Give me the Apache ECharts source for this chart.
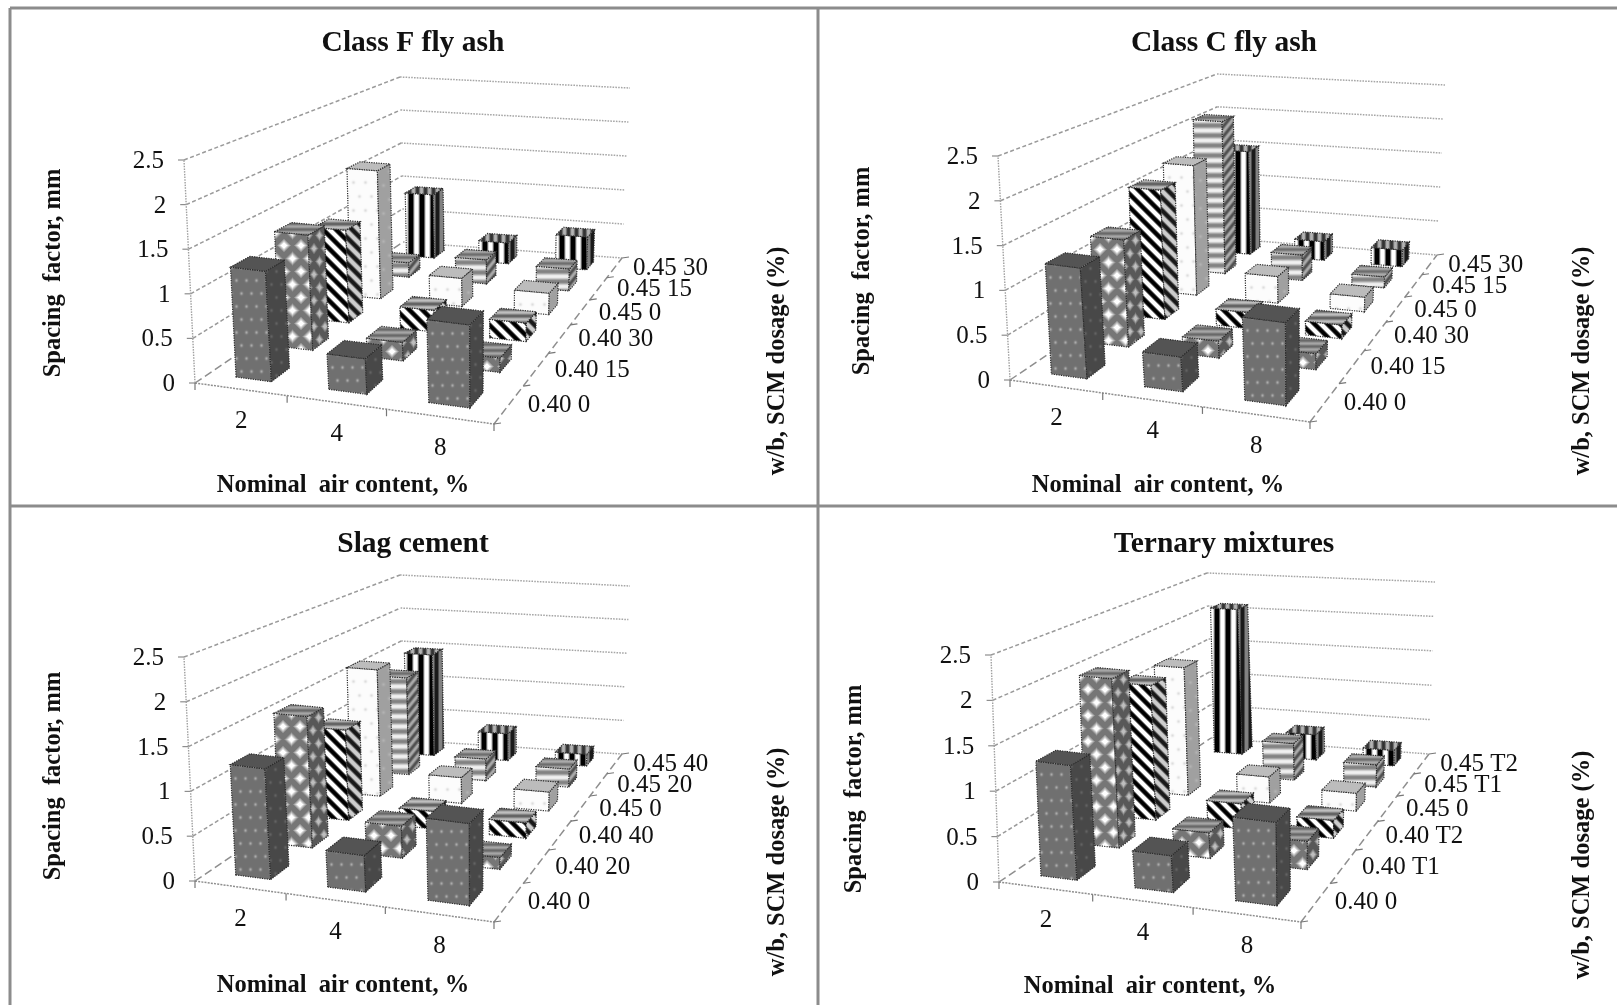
<!DOCTYPE html>
<html><head><meta charset="utf-8">
<style>html,body{margin:0;padding:0;background:#fff}#c{width:1617px;height:1005px}</style>
<script src="https://cdn.jsdelivr.net/npm/echarts@6/dist/echarts.min.js"></script>
</head><body><div id="c"></div>
<script>
// ---------- data ----------
const airContent = ['2','4','8'];
const spacingTicks = [0,0.5,1,1.5,2,2.5];
const labelsClassF = ['0.40 0','0.40 15','0.40 30','0.45 0','0.45 15','0.45 30'];
const labelsClassC = ['0.40 0','0.40 15','0.40 30','0.45 0','0.45 15','0.45 30'];
const labelsSlag = ['0.40 0','0.40 20','0.40 40','0.45 0','0.45 20','0.45 40'];
const labelsTernary = ['0.40 0','0.40 T1','0.40 T2','0.45 0','0.45 T1','0.45 T2'];
// rows: one per w/b + SCM label; columns: air content 2, 4, 8
const classFValues = [[1.25,0.4,0.93],[1.38,0.22,0.17],[1.17,0.27,0.23],[1.7,0.37,0.28],[0.2,0.33,0.3],[0.92,0.3,0.47]];
const classCValues = [[1.25,0.39,0.93],[1.28,0.2,0.19],[1.63,0.2,0.17],[1.72,0.35,0.19],[2.12,0.35,0.15],[1.5,0.27,0.24]];
const slagValues = [[1.25,0.41,0.92],[1.57,0.38,0.14],[1.14,0.22,0.19],[1.68,0.34,0.25],[1.35,0.3,0.25],[1.47,0.39,0.17]];
const ternaryValues = [[1.28,0.41,0.93],[2.0,0.3,0.33],[1.68,0.31,0.22],[1.68,0.34,0.23],[null,0.5,0.3],[2.1,0.36,0.22]];

// ---------- layout ----------
const FONT = '"Liberation Serif","Times New Roman",serif';
const panels = [
 {title:'Class F fly ash', values:classFValues, labels:labelsClassF, tx:413, ty:38,
  f:[[195,383],[494,424],[622,258],[403,242]], t:[[184,160],[497,197],[630,88],[400,77]],
  xt:[343,486], yt:[54,273], zt:[778,361]},
 {title:'Class C fly ash', values:classCValues, labels:labelsClassC, tx:1224, ty:38,
  f:[[1010,380],[1310,422],[1437,255],[1219,238]], t:[[998,156],[1313,195],[1445,85],[1217,74]],
  xt:[1158,486], yt:[863,271], zt:[1583,361]},
 {title:'Slag cement', values:slagValues, labels:labelsSlag, tx:413, ty:539,
  f:[[195,881],[494,922],[622,754],[403,740]], t:[[184,657],[497,695],[630,586],[400,575]],
  xt:[343,986], yt:[54,776], zt:[778,862]},
 {title:'Ternary mixtures', values:ternaryValues, labels:labelsTernary, tx:1224, ty:539,
  f:[[999,882],[1301,922],[1429,754],[1211,738]], t:[[991,655],[1304,695],[1435,582],[1207,573]],
  xt:[1150,987], yt:[855,789], zt:[1583,865]}
];
const BAR_U = 0.39, BAR_V = 0.42, MAX_V = 2.5;

function homography(q){
  const [x0,y0]=q[0],[x1,y1]=q[1],[x2,y2]=q[2],[x3,y3]=q[3];
  const dx1=x1-x2,dx2=x3-x2,dx3=x0-x1+x2-x3,dy1=y1-y2,dy2=y3-y2,dy3=y0-y1+y2-y3;
  const den=dx1*dy2-dx2*dy1, g=(dx3*dy2-dx2*dy3)/den, h=(dx1*dy3-dx3*dy1)/den;
  const a=x1-x0+g*x1,b=x3-x0+h*x3,d=y1-y0+g*y1,e=y3-y0+h*y3;
  return (u,v)=>{const w=g*u+h*v+1;return [(a*u+b*v+x0)/w,(d*u+e*v+y0)/w];};
}
panels.forEach(p=>{
  const hf=homography(p.f), ht=homography(p.t);
  p.project=(u,v,val)=>{const A=hf(u,v),B=ht(u,v),s=val/MAX_V;return [A[0]+(B[0]-A[0])*s,A[1]+(B[1]-A[1])*s];};
});

// ---------- fill patterns (brightness functions on a periodic tile) ----------
function tile(w,h,fn){
  const c=document.createElement('canvas');c.width=w;c.height=h;
  const x=c.getContext('2d'),d=x.createImageData(w,h);
  for(let j=0;j<h;j++)for(let i=0;i<w;i++){
    const v=Math.max(0,Math.min(255,fn(i,j))),k=(j*w+i)*4;
    d.data[k]=d.data[k+1]=d.data[k+2]=v;d.data[k+3]=255;
  }
  x.putImageData(d,0,0);return c;
}
function blobs(w,h,bg,fg,sx,sy,diamond){
  return tile(w,h,(i,j)=>{
    let m=0;
    [[0,0],[w/2,h/2]].forEach(([cx,cy])=>{
      for(let a=-1;a<=1;a++)for(let b=-1;b<=1;b++){
        const dx=i-cx-a*w,dy=j-cy-b*h;
        const val=diamond?Math.min(1,Math.max(0,1.5-(Math.abs(dx)/sx+Math.abs(dy)/sy))):Math.exp(-(dx*dx/(sx*sx)+dy*dy/(sy*sy)));
        m=Math.max(m,val);
      }
    });
    return bg+(fg-bg)*m;
  });
}
function stripes(w,h,lo,hi,kx,ky,sharp){
  return tile(w,h,(i,j)=>{
    const c=Math.cos(2*Math.PI*(kx*i/w+ky*j/h));
    const s=Math.max(-1,Math.min(1,c*sharp));
    return lo+(hi-lo)*(s+1)/2;
  });
}
const rowPatterns=[
 {front:blobs(10,26,112,170,1.4,1.6), side:blobs(10,26,72,98,1.4,1.6), top:tile(4,4,()=>84)},
 {front:blobs(17,26,118,255,5,5,true), side:blobs(11,26,88,190,3.2,4.4,true), top:stripes(20,6,105,165,0,1,1)},
 {front:stripes(13,13,0,255,1,-1,1.8), side:stripes(13,13,25,205,1,-1,1.6), top:stripes(12,7,95,190,0,1,1)},
 {front:blobs(12,28,252,222,1.6,1.6), side:blobs(12,28,160,178,1.6,1.6), top:tile(4,4,()=>188)},
 {front:stripes(8,10,130,240,0,1,1.1), side:stripes(8,10,80,170,1,1,1.1), top:stripes(20,6,110,170,0,1,1)},
 {front:stripes(11,8,0,255,1,0,1.6), side:stripes(8,8,25,130,1,0,1.4), top:stripes(8,8,50,180,1,0,1.2)}
];
const OUT={stroke:'#2a2a2a',lineWidth:1.2,lineDash:[1.2,1.2]};

// ---------- series builders ----------
function poly(api,pts,style){
  return {type:'polygon',shape:{points:pts.map(q=>api.coord(q))},style:Object.assign({},style)};
}
function barItem(p){
  return function(params,api){
    const cat=api.value(0),row=api.value(1),val=api.value(2);
    const u0=(cat+0.5-BAR_U/2)/3, u1=(cat+0.5+BAR_U/2)/3;
    const v0=(row+0.5-BAR_V/2)/6, v1=(row+0.5+BAR_V/2)/6;
    const P=p.project, pat=rowPatterns[row];
    const a=P(u0,v0,0),b=P(u1,v0,0),c=P(u1,v1,0),
          at=P(u0,v0,val),bt=P(u1,v0,val),ct=P(u1,v1,val),dt=P(u0,v1,val);
    const fill=(im,q)=>({image:im,repeat:'repeat',x:Math.round(q[0]),y:Math.round(q[1])});
    return {type:'group',children:[
      poly(api,[a,b,bt,at],Object.assign({fill:fill(pat.front,at)},OUT)),
      poly(api,[b,c,ct,bt],Object.assign({fill:fill(pat.side,bt)},OUT)),
      poly(api,[at,bt,ct,dt],Object.assign({fill:fill(pat.top,at)},OUT))
    ]};
  };
}
function line(api,A,B,style){
  const a=api.coord(A),b=api.coord(B);
  return {type:'line',shape:{x1:a[0],y1:a[1],x2:b[0],y2:b[1]},style:Object.assign({fill:null},style)};
}
function txt(api,pos,s,align,font){
  const q=api.coord(pos);
  return {type:'text',x:q[0],y:q[1],style:{text:s,fill:'#111',font:font,textAlign:align,textVerticalAlign:'middle'}};
}
function frameItem(p){
  return function(params,api){
    const P=p.project, kids=[];
    const wall={stroke:'#9a9a9a',lineWidth:1.5,lineDash:[4,2.5]};
    const back={stroke:'#a6a6a6',lineWidth:1.5,lineDash:[1.6,1.2]};
    const axis={stroke:'#8e8e8e',lineWidth:1.5,lineDash:[8,4]};
    const tickFont='25px '+FONT;
    spacingTicks.forEach(v=>{
      const fl=P(0,0,v),bl=P(0,1,v),br=P(1,1,v);
      kids.push(line(api,fl,bl,v===0?axis:wall));
      kids.push(line(api,bl,br,back));
      kids.push(line(api,[fl[0]-6,fl[1]],fl,{stroke:'#8e8e8e',lineWidth:1.2}));
      kids.push(txt(api,[fl[0]-20,fl[1]+1.5],String(v),'right',tickFont));
    });
    kids.push(line(api,P(0,0,0),P(0,0,MAX_V),{stroke:'#a0a0a0',lineWidth:1.4,lineDash:[1.5,1.2]}));
    kids.push(line(api,P(0,0,0),P(1,0,0),{stroke:'#8e8e8e',lineWidth:1.5,lineDash:[2,1.2]}));
    kids.push(line(api,P(1,0,0),P(1,1,0),axis));
    for(let i=0;i<=airContent.length;i++){
      const q=P(i/3,0,0);
      kids.push(line(api,q,[q[0],q[1]+7],{stroke:'#777',lineWidth:1.2}));
    }
    airContent.forEach((s,i)=>{
      const q=P((i+0.5)/3,0,0);
      kids.push(txt(api,[q[0]+1,q[1]+32],s,'center',tickFont));
    });
    for(let j=0;j<=6;j++){
      const q=P(1,j/6,0);
      kids.push(line(api,q,[q[0]+7,q[1]-1],{stroke:'#777',lineWidth:1.2}));
    }
    p.labels.forEach((s,j)=>{
      const q=P(1,(j+0.5)/6,0);
      kids.push(txt(api,[q[0]+18.5,q[1]+1],s,'left',tickFont));
    });
    return {type:'group',children:kids};
  };
}
const BOLD='bold 24.5px '+FONT;

// ---------- option ----------
const series=[], titles=[], graphics=[];
panels.forEach(p=>{
  series.push({type:'custom',coordinateSystem:'cartesian2d',silent:true,clip:false,z:1,
    renderItem:frameItem(p),data:[[0,0]],encode:{x:0,y:1}});
  const rows=[];
  for(let r=p.values.length-1;r>=0;r--){
    airContent.forEach((c,i)=>{ if(p.values[r][i]!=null) rows.push([i,r,p.values[r][i]]); });
  }
  series.push({type:'custom',coordinateSystem:'cartesian2d',silent:true,clip:false,z:2,
    renderItem:barItem(p),data:rows,encode:{x:0,y:1}});
  titles.push({text:p.title,left:p.tx-5,top:p.ty,textAlign:'center',textVerticalAlign:'middle',
    textStyle:{fontFamily:FONT,fontWeight:'bold',fontSize:29.5,color:'#111'}});
  graphics.push({type:'text',x:p.xt[0],y:p.xt[1],style:{text:'Nominal  air content, %',font:BOLD,fill:'#111',textAlign:'center',textVerticalAlign:'middle'}});
  graphics.push({type:'text',x:p.yt[0],y:p.yt[1],rotation:Math.PI/2,style:{text:'Spacing  factor, mm',font:BOLD,fill:'#111',textAlign:'center',textVerticalAlign:'middle'}});
  graphics.push({type:'text',x:p.zt[0],y:p.zt[1],rotation:Math.PI/2,style:{text:'w/b, SCM dosage (%)',font:BOLD,fill:'#111',textAlign:'center',textVerticalAlign:'middle'}});
});
const BORDER={stroke:'#8c8c8c',lineWidth:3};
[[10,8,1617,8],[10,506,1617,506],[10,8,10,1005],[818,8,818,1005]].forEach(b=>{
  graphics.push({type:'line',shape:{x1:b[0],y1:b[1],x2:b[2],y2:b[3]},style:BORDER});
});

const chart=echarts.init(document.getElementById('c'),null,{renderer:'canvas'});
chart.setOption({
  animation:false,backgroundColor:'#fff',
  title:titles,
  grid:{left:0,right:0,top:0,bottom:0},
  xAxis:{type:'value',min:0,max:1617,show:false},
  yAxis:{type:'value',min:0,max:1005,inverse:true,show:false},
  graphic:graphics,
  series:series
});
</script></body></html>
